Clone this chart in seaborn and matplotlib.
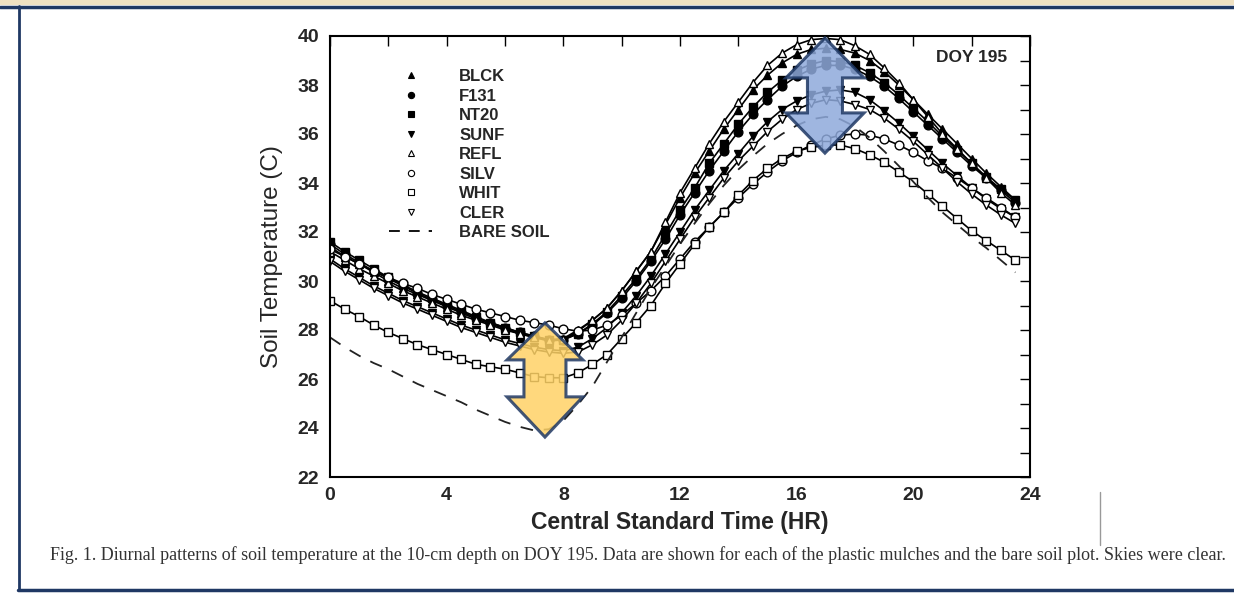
import numpy as np
import pandas as pd
import seaborn as sns
import matplotlib
matplotlib.use("Agg")
import matplotlib.pyplot as plt
from matplotlib.lines import Line2D
from matplotlib.patches import Polygon, Rectangle

# ---------------- data (half-hourly, 0 .. 23.5 h) ----------------
hours = [i * 0.5 for i in range(48)]

blck = [31.4, 31.0, 30.7, 30.35, 30.0, 29.7, 29.45, 29.2, 28.95, 28.7, 28.45, 28.25,
        28.05, 27.85, 27.7, 27.55, 27.6, 27.95, 28.4, 28.9, 29.6, 30.4, 31.2, 32.3,
        33.4, 34.4, 35.3, 36.2, 37.0, 37.8, 38.4, 38.9, 39.25, 39.45, 39.5, 39.45,
        39.3, 39.0, 38.55, 38.0, 37.4, 36.8, 36.2, 35.6, 35.0, 34.4, 33.85, 33.3]
f131 = [31.5, 31.1, 30.75, 30.4, 30.1, 29.8, 29.5, 29.25, 29.0, 28.75, 28.5, 28.3,
        28.1, 27.9, 27.75, 27.6, 27.6, 27.85, 28.2, 28.7, 29.3, 30.0, 30.8, 31.7,
        32.7, 33.6, 34.5, 35.3, 36.1, 36.8, 37.4, 37.95, 38.35, 38.65, 38.8, 38.8,
        38.65, 38.35, 37.95, 37.45, 36.9, 36.35, 35.8, 35.25, 34.7, 34.2, 33.7, 33.2]
nt20 = [31.6, 31.2, 30.85, 30.5, 30.15, 29.85, 29.55, 29.3, 29.05, 28.8, 28.55, 28.3,
        28.1, 27.9, 27.75, 27.6, 27.6, 27.85, 28.25, 28.75, 29.4, 30.1, 30.9, 31.9,
        32.9, 33.8, 34.8, 35.6, 36.4, 37.1, 37.7, 38.2, 38.6, 38.85, 39.0, 38.95,
        38.8, 38.5, 38.1, 37.6, 37.05, 36.5, 35.9, 35.35, 34.8, 34.25, 33.75, 33.3]
sunf = [30.9, 30.5, 30.15, 29.8, 29.5, 29.2, 28.95, 28.7, 28.45, 28.2, 28.0, 27.8,
        27.6, 27.45, 27.3, 27.2, 27.15, 27.3, 27.65, 28.1, 28.7, 29.4, 30.2, 31.1,
        32.0, 32.9, 33.7, 34.5, 35.2, 35.9, 36.5, 37.0, 37.35, 37.6, 37.75, 37.8,
        37.7, 37.4, 36.95, 36.45, 35.9, 35.35, 34.8, 34.3, 33.8, 33.35, 32.95, 32.6]
refl = [31.2, 30.85, 30.5, 30.2, 29.9, 29.6, 29.35, 29.1, 28.85, 28.6, 28.4, 28.2,
        28.0, 27.85, 27.7, 27.6, 27.65, 28.0, 28.4, 28.9, 29.6, 30.4, 31.2, 32.4,
        33.6, 34.6, 35.6, 36.5, 37.3, 38.1, 38.8, 39.3, 39.65, 39.85, 39.9, 39.85,
        39.6, 39.25, 38.7, 38.1, 37.4, 36.7, 36.0, 35.4, 34.8, 34.2, 33.6, 33.1]
silv = [31.3, 31.0, 30.7, 30.4, 30.15, 29.9, 29.7, 29.45, 29.25, 29.05, 28.85, 28.7,
        28.55, 28.4, 28.3, 28.2, 28.05, 27.95, 28.0, 28.2, 28.6, 29.1, 29.6, 30.2,
        30.9, 31.6, 32.2, 32.8, 33.4, 33.95, 34.45, 34.9, 35.25, 35.55, 35.8, 35.95,
        36.0, 35.95, 35.8, 35.55, 35.25, 34.9, 34.6, 34.2, 33.8, 33.4, 33.0, 32.6]
whit = [29.2, 28.85, 28.55, 28.2, 27.9, 27.65, 27.4, 27.2, 27.0, 26.8, 26.6, 26.5,
        26.4, 26.25, 26.1, 26.05, 26.05, 26.25, 26.6, 27.0, 27.65, 28.3, 29.0, 29.9,
        30.7, 31.5, 32.2, 32.8, 33.5, 34.1, 34.6, 35.0, 35.3, 35.45, 35.55, 35.55,
        35.4, 35.15, 34.85, 34.45, 34.05, 33.55, 33.05, 32.55, 32.05, 31.65, 31.25, 30.85]
cler = [30.8, 30.4, 30.05, 29.7, 29.4, 29.1, 28.85, 28.6, 28.35, 28.1, 27.9, 27.7,
        27.5, 27.35, 27.2, 27.1, 27.05, 27.1, 27.4, 27.8, 28.4, 29.1, 29.9, 30.8,
        31.7, 32.6, 33.4, 34.2, 34.9, 35.5, 36.1, 36.6, 37.0, 37.25, 37.4, 37.35,
        37.2, 37.0, 36.65, 36.2, 35.7, 35.15, 34.6, 34.05, 33.55, 33.1, 32.7, 32.35]
bare = [27.7, 27.3, 26.95, 26.65, 26.4, 26.1, 25.8, 25.55, 25.3, 25.05, 24.75, 24.5,
        24.25, 24.05, 23.9, 23.95, 24.3, 24.95, 25.7, 26.7, 27.7, 28.7, 29.7, 30.6,
        31.5, 32.35, 33.15, 33.9, 34.55, 35.1, 35.6, 36.0, 36.35, 36.6, 36.7, 36.6,
        36.3, 35.85, 35.3, 34.7, 34.05, 33.4, 32.8, 32.3, 31.8, 31.35, 30.85, 30.35]

series_names = ["BLCK", "F131", "NT20", "SUNF", "REFL", "SILV", "WHIT", "CLER", "BARE SOIL"]
series_vals = [blck, f131, nt20, sunf, refl, silv, whit, cler, bare]
x_ticks = [0, 4, 8, 12, 16, 20, 24]
y_ticks = [22, 24, 26, 28, 30, 32, 34, 36, 38, 40]

# styles
markers = {"BLCK": "^", "F131": "o", "NT20": "s", "SUNF": "v",
           "REFL": "^", "SILV": "o", "WHIT": "s", "CLER": "v", "BARE SOIL": None}
filled = {"BLCK": True, "F131": True, "NT20": True, "SUNF": True,
          "REFL": False, "SILV": False, "WHIT": False, "CLER": False, "BARE SOIL": False}

df = pd.DataFrame({"hour": hours * len(series_names),
                   "temp": sum(series_vals, []),
                   "series": np.repeat(series_names, len(hours))})

sns.set_theme(style="white")
plt.rcParams["font.family"] = ["Liberation Sans", "DejaVu Sans"]

fig = plt.figure(figsize=(12.34, 5.94), dpi=100)
ax = fig.add_axes([330 / 1234, 1 - 477 / 594, 700 / 1234, (477 - 36) / 594])

for name in series_names:
    sub = df[df["series"] == name]
    if name == "BARE SOIL":
        sns.lineplot(data=sub, x="hour", y="temp", ax=ax, color="#222222",
                     linewidth=1.3, linestyle=(0, (7, 6)), legend=False)
    else:
        sns.lineplot(data=sub, x="hour", y="temp", ax=ax, color="black",
                     linewidth=1.2, marker=markers[name], markersize=6.3,
                     markerfacecolor="black" if filled[name] else "white",
                     markeredgecolor="black", markeredgewidth=1.0, legend=False)

ax.set_xlim(0, 24)
ax.set_ylim(22, 40)
ax.set_xticks(x_ticks)
ax.set_xticks(list(range(0, 25, 2)), minor=True)
ax.set_yticks(y_ticks)
ax.set_yticks(list(range(22, 41)), minor=True)
ax.set_xticklabels([str(v) for v in x_ticks], fontsize=14, fontweight="bold")
ax.set_yticklabels([str(v) for v in y_ticks], fontsize=14, fontweight="bold")
ax.tick_params(which="both", direction="in", top=True, right=True, length=7, width=1,
               color="black")
ax.tick_params(axis="x", pad=7)
ax.tick_params(axis="y", pad=8)
for s in ax.spines.values():
    s.set_color("black")
    s.set_linewidth(1.5)
ax.set_xlabel("Central Standard Time (HR)", fontsize=16.5, fontweight="bold", labelpad=5)
ax.set_ylabel("Soil Temperature (C)", fontsize=17.5, labelpad=10)
ax.grid(False)

# legend
handles = []
for name in series_names:
    if name == "BARE SOIL":
        handles.append(Line2D([], [], color="black", linewidth=1.3, linestyle=(0, (6, 5))))
    else:
        handles.append(Line2D([], [], linestyle="none", marker=markers[name], markersize=4.5,
                              markerfacecolor="black" if filled[name] else "white",
                              markeredgecolor="black", markeredgewidth=0.8))
leg = ax.legend(handles, series_names, loc="upper left", bbox_to_anchor=(0.075, 0.94),
                frameon=False, handlelength=2.6, handletextpad=1.6, labelspacing=0.27,
                borderaxespad=0.0,
                prop={"family": "Liberation Sans", "weight": "bold", "size": 12})

ax.text(0.967, 0.952, "DOY 195", transform=ax.transAxes, ha="right", va="center",
        fontsize=12.5, fontweight="bold")

# annotation double arrows
def double_arrow(xc, y_top, y_head1, y_head2, y_bot, hw, sw, fc):
    pts = [(xc, y_top), (xc + hw, y_head1), (xc + sw, y_head1), (xc + sw, y_head2),
           (xc + hw, y_head2), (xc, y_bot), (xc - hw, y_head2), (xc - sw, y_head2),
           (xc - sw, y_head1), (xc - hw, y_head1)]
    ax.add_patch(Polygon(pts, closed=True, facecolor=fc, edgecolor="#1F3864",
                         linewidth=2.2, alpha=0.85, zorder=5))

double_arrow(7.37, 28.29, 26.78, 25.27, 23.63, 1.30, 0.72, "#FFD266")
double_arrow(16.97, 39.92, 38.29, 36.86, 35.22, 1.34, 0.60, "#8EA9DB")

# frame decorations
fig.add_artist(Rectangle((0, 1 - 5 / 594), 1, 5 / 594, transform=fig.transFigure,
                         facecolor="#EFE1C2", edgecolor="none"))
fig.add_artist(Line2D([0, 1], [1 - 6.5 / 594, 1 - 6.5 / 594], transform=fig.transFigure,
                      color="#1F3864", linewidth=2.5))
fig.add_artist(Line2D([19 / 1234, 19 / 1234], [1 - 590 / 594, 1 - 6 / 594],
                      transform=fig.transFigure, color="#1F3864", linewidth=2.0))
fig.add_artist(Line2D([18 / 1234, 1], [1 - 590 / 594, 1 - 590 / 594],
                      transform=fig.transFigure, color="#1F3864", linewidth=2.5))
fig.add_artist(Line2D([1100 / 1234, 1100 / 1234], [1 - 545 / 594, 1 - 492 / 594],
                      transform=fig.transFigure, color="#999999", linewidth=1.0))

fig.text(638 / 1234, 1 - 555 / 594,
         "Fig. 1. Diurnal patterns of soil temperature at the 10-cm depth on DOY 195. "
         "Data are shown for each of the plastic mulches and the bare soil plot. Skies were clear.",
         ha="center", va="center", fontsize=13, family="Liberation Serif", color="#333333")

fig.savefig("out.png", dpi=100, facecolor="white")
